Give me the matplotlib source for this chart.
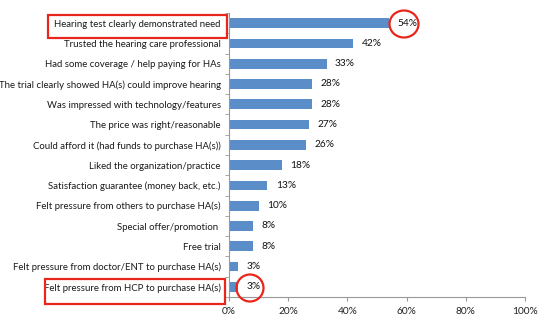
import matplotlib.pyplot as plt
from matplotlib.patches import Rectangle, Ellipse

# 구매 이유 항목과 응답 비율(%)
reasons = [
    'Hearing test clearly demonstrated need',
    'Trusted the hearing care professional',
    'Had some coverage / help paying for HAs',
    'The trial clearly showed HA(s) could improve hearing',
    'Was impressed with technology/features',
    'The price was right/reasonable',
    'Could afford it (had funds to purchase HA(s))',
    'Liked the organization/practice',
    'Satisfaction guarantee (money back, etc.)',
    'Felt pressure from others to purchase HA(s)',
    'Special offer/promotion ',
    'Free trial',
    'Felt pressure from doctor/ENT to purchase HA(s)',
    'Felt pressure from HCP to purchase HA(s)',
]
percents = [54, 42, 33, 28, 28, 27, 26, 18, 13, 10, 8, 8, 3, 3]
xticks = [0, 20, 40, 60, 80, 100]

plt.rcParams['font.family'] = ['Lato', 'DejaVu Sans']

W, H = 546, 323
fig = plt.figure(figsize=(W / 100, H / 100), dpi=100)
ax = fig.add_axes([229 / W, 1 - 297 / H, 296 / W, 284 / H])

pos = list(range(len(reasons)))
bars = ax.barh(pos, percents, height=0.48, color='#5b8ec8')
ax.set_ylim(len(reasons) - 0.5, -0.5)
ax.set_xlim(0, 100)

# 막대 끝에 비율 표기
for bar, v in zip(bars, percents):
    ax.annotate(f'{v}%', xy=(bar.get_width(), bar.get_y() + bar.get_height() / 2),
                xytext=(6, 0), textcoords='offset points',
                ha='left', va='center', fontsize=7.3, color='#111111')

ax.set_yticks(pos)
ax.set_yticklabels(reasons, fontsize=6.9, color='#1a1a1a')
ax.set_xticks(xticks)
ax.set_xticklabels([f'{t}%' for t in xticks], fontsize=7.3, color='#222222')

# 항목 경계에 눈금 표시
ax.set_yticks([p - 0.5 for p in pos] + [len(reasons) - 0.5], minor=True)
ax.tick_params(axis='y', which='major', length=0, pad=6)
ax.tick_params(axis='y', which='minor', length=3, color='#999999')
ax.tick_params(axis='x', length=3, color='#999999', pad=4)

for side in ['top', 'right']:
    ax.spines[side].set_visible(False)
for side in ['left', 'bottom']:
    ax.spines[side].set_color('#999999')
    ax.spines[side].set_linewidth(0.8)


# 강조 표시 (픽셀 좌표)
def px(x, y):
    return x / W, 1 - y / H


red = '#e8261c'
for (x0, y0, x1, y1) in [(48, 15, 227, 38), (45, 279, 225, 304)]:
    fig.patches.append(Rectangle(px(x0, y1), (x1 - x0) / W, (y1 - y0) / H,
                                 transform=fig.transFigure, fill=False,
                                 edgecolor=red, linewidth=1.6))
for (cx, cy, w, h) in [(404, 24, 29, 27), (250, 288, 27, 27)]:
    fig.patches.append(Ellipse(px(cx, cy), w / W, h / H,
                               transform=fig.transFigure, fill=False,
                               edgecolor=red, linewidth=1.6))

fig.savefig('out.png', dpi=100)
